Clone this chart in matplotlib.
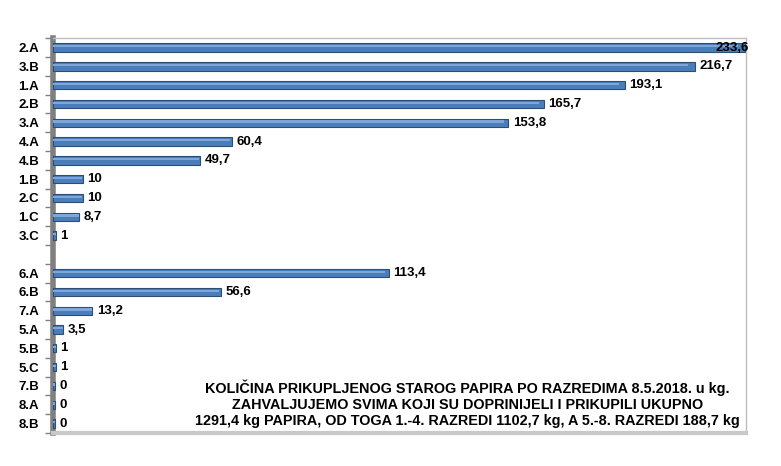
import numpy as np
import matplotlib.pyplot as plt

# razredi i kilogrami papira (prazno mjesto odvaja 1.-4. od 5.-8.)
razredi = ['2.A', '3.B', '1.A', '2.B', '3.A', '4.A', '4.B', '1.B', '2.C', '1.C', '3.C',
           '', '6.A', '6.B', '7.A', '5.A', '5.B', '5.C', '7.B', '8.A', '8.B']
kg = [233.6, 216.7, 193.1, 165.7, 153.8, 60.4, 49.7, 10, 10, 8.7, 1,
      np.nan, 113.4, 56.6, 13.2, 3.5, 1, 1, 0, 0, 0]
oznake = ['233,6', '216,7', '193,1', '165,7', '153,8', '60,4', '49,7', '10', '10', '8,7', '1',
          '', '113,4', '56,6', '13,2', '3,5', '1', '1', '0', '0', '0']

naslov = ("KOLIČINA PRIKUPLJENOG STAROG PAPIRA PO RAZREDIMA 8.5.2018. u kg.\n"
          "ZAHVALJUJEMO SVIMA KOJI SU DOPRINIJELI I PRIKUPILI UKUPNO\n"
          "1291,4 kg PAPIRA, OD TOGA 1.-4. RAZREDI 1102,7 kg, A 5.-8. RAZREDI 188,7 kg")

plt.rcParams['font.family'] = ['Liberation Sans', 'DejaVu Sans']

fig = plt.figure(figsize=(7.81, 4.66), dpi=100)
ax = fig.add_axes([0.068, 0.071, 0.887, 0.847])

y = np.arange(len(razredi))
vals = np.nan_to_num(np.array(kg), nan=0.0)
ima = ~np.isnan(np.array(kg))
sirina = np.where(vals > 0, vals, 0.6)
xmax = 234

ax.barh(y[ima], sirina[ima], height=0.44, color='#4a7ebb', edgecolor='#2c4d75',
        linewidth=0.8, zorder=3)
# svjetliji odsjaj na vrhu valjka
ax.barh(y[ima] - 0.07, sirina[ima] * 0.99, height=0.12, color='#7ea6d8',
        linewidth=0, zorder=4)

for yi, v, t, ok in zip(y, vals, oznake, ima):
    if not ok:
        continue
    if v > xmax - 10:
        # preduga oznaka ide preko kraja stupca
        ax.text(xmax + 1, yi, t, va='center', ha='right', fontsize=9.5,
                fontweight='bold', zorder=5)
    else:
        ax.text(max(v, 0.6) + 1.5, yi, t, va='center', ha='left', fontsize=9.5,
                fontweight='bold', zorder=5)

ax.set_xlim(0, xmax)
ax.set_ylim(20.28, -0.32)
ax.set_yticks(y)
ax.set_yticklabels(razredi, fontsize=9.5, fontweight='bold')
ax.set_yticks(np.arange(-0.5, 21, 1), minor=True)
ax.tick_params(axis='y', which='major', length=0, pad=10)
ax.tick_params(axis='y', which='minor', length=6, width=1, color='#808080', direction='out')
ax.set_xticks([])

for s in ['top', 'right']:
    ax.spines[s].set_color('#bfbfbf')
    ax.spines[s].set_linewidth(1)
ax.spines['left'].set_color('#808080')
ax.spines['left'].set_linewidth(4)
ax.spines['bottom'].set_color('#c8c8c8')
ax.spines['bottom'].set_linewidth(3)

ax.text(0.598, 0.074, naslov, transform=ax.transAxes, ha='center', va='center',
        fontsize=10.4, fontweight='bold', linespacing=1.22, zorder=6)

fig.savefig('out.png', dpi=100)
